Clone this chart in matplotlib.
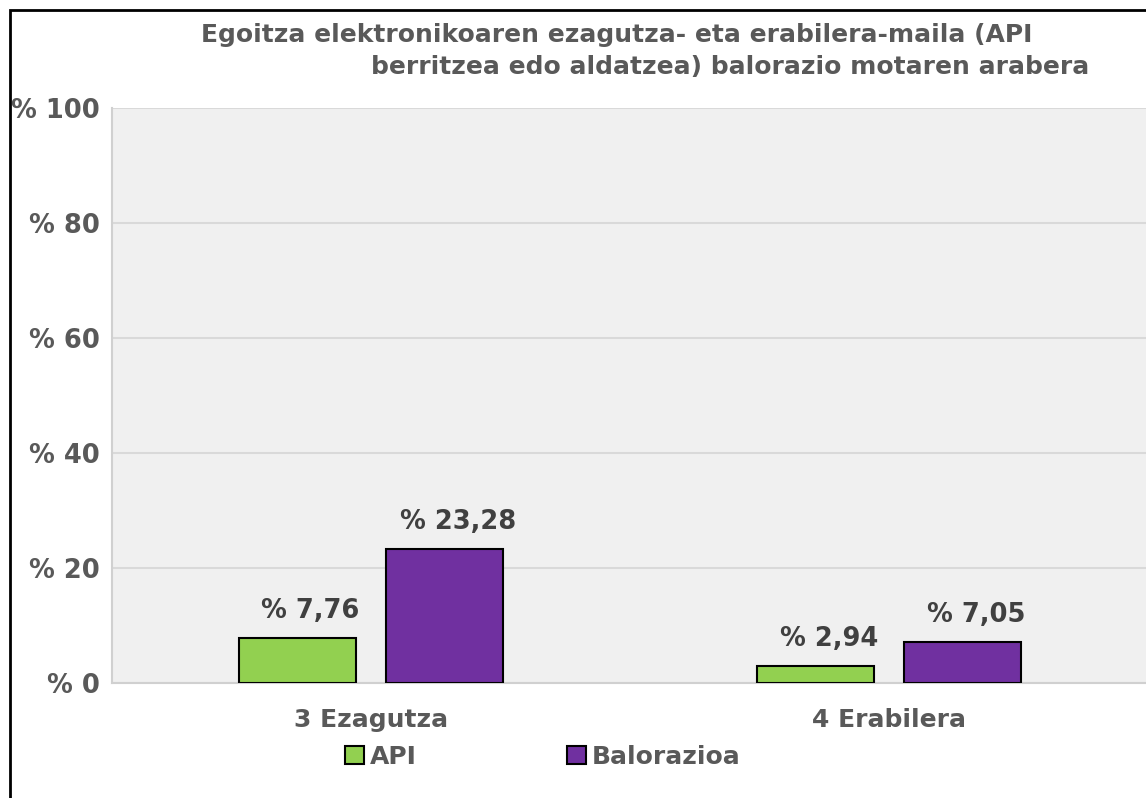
import matplotlib
matplotlib.use("Agg")
import matplotlib.pyplot as plt
from matplotlib.patches import Rectangle
import numpy as np

categories = ["3 Ezagutza", "4 Erabilera"]
series_names = ["API", "Balorazioa"]
api_values = [7.76, 2.94]
balorazioa_values = [23.28, 7.05]
yticks = [0, 20, 40, 60, 80, 100]
ytick_labels = ["% 0", "% 20", "% 40", "% 60", "% 80", "% 100"]
title_line1 = "Egoitza elektronikoaren ezagutza- eta erabilera-maila (API"
title_line2 = "berritzea edo aldatzea) balorazio motaren arabera"

W, H = 1146, 798
fig = plt.figure(figsize=(W / 100, H / 100), dpi=100)
fig.patch.set_facecolor("white")

TXT = "#595959"
LBL = "#404040"
FS = 18

ax = fig.add_axes([112 / W, (H - 683) / H, 1036 / W, 575 / H])
ax.set_facecolor("#f0f0f0")

x = np.arange(len(categories))
bw = 0.226
off = 0.142
b1 = ax.bar(x - off, api_values, bw, color="#92d050", edgecolor="black", linewidth=1.5, zorder=3, label=series_names[0])
b2 = ax.bar(x + off, balorazioa_values, bw, color="#7030a0", edgecolor="black", linewidth=1.5, zorder=3, label=series_names[1])

ax.set_xlim(-0.5, 1.5)
ax.set_ylim(0, 100)
ax.set_yticks(yticks)
ax.set_yticklabels(ytick_labels)
ax.set_xticks(x)
ax.set_xticklabels(categories)
ax.tick_params(axis="y", length=0, pad=9, labelsize=FS + 0.5, labelcolor=TXT)
ax.tick_params(axis="x", length=0, pad=18, labelsize=FS, labelcolor=TXT)
for lab in ax.get_yticklabels() + ax.get_xticklabels():
    lab.set_fontweight("bold")

ax.grid(axis="y", color="#d9d9d9", linewidth=1.5, zorder=0)
ax.set_axisbelow(True)
for s in ["top", "right"]:
    ax.spines[s].set_visible(False)
for s in ["left", "bottom"]:
    ax.spines[s].set_color("#d0d0d0")
    ax.spines[s].set_linewidth(1.5)

for bars, vals in [(b1, api_values), (b2, balorazioa_values)]:
    for rect, v in zip(bars, vals):
        ax.annotate("% " + f"{v:.2f}".replace(".", ","),
                    xy=(rect.get_x() + rect.get_width() / 2, v),
                    xytext=(9.5, 14.5), textcoords="offset points",
                    ha="center", va="baseline", fontsize=FS + 0.5, fontweight="bold", color=LBL)

fig.text(201 / W, 1 - 35 / H, title_line1, ha="left", va="center", fontsize=FS, fontweight="bold", color=TXT)
fig.text(371 / W, 1 - 67 / H, title_line2, ha="left", va="center", fontsize=FS, fontweight="bold", color=TXT)

leg = fig.legend(handles=[b1, b2], labels=series_names, loc="center", bbox_to_anchor=(543 / W, 1 - 757 / H),
                 ncol=2, frameon=False, fontsize=FS, handlelength=0.75, handleheight=0.75,
                 handletextpad=0.25, columnspacing=6.0, labelcolor=TXT)
for t in leg.get_texts():
    t.set_fontweight("bold")

fig.patches.append(Rectangle((10 / W, -0.05), 1.2, (H - 10) / H + 0.05, transform=fig.transFigure,
                             fill=False, edgecolor="black", linewidth=2, zorder=10))

fig.savefig("out.png", dpi=100)
